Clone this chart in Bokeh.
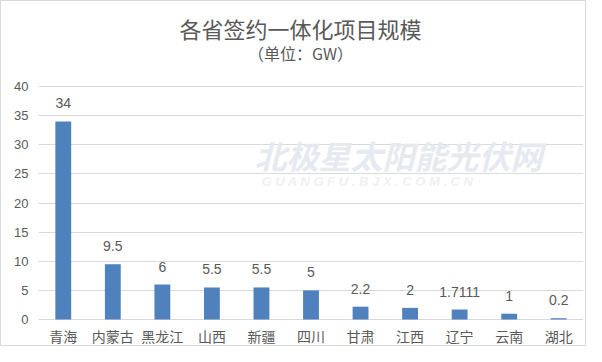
from bokeh.plotting import figure
from bokeh.models import ColumnDataSource, LabelSet, Label, FactorRange, Range1d, FixedTicker
from bokeh.core.properties import value
from bokeh.embed import file_html
from bokeh.resources import INLINE

# ---- data ----
provinces = ["青海", "内蒙古", "黑龙江", "山西", "新疆", "四川", "甘肃", "江西", "辽宁", "云南", "湖北"]
capacity_gw = [34, 9.5, 6, 5.5, 5.5, 5, 2.2, 2, 1.7111, 1, 0.2]
value_labels = ["34", "9.5", "6", "5.5", "5.5", "5", "2.2", "2", "1.7111", "1", "0.2"]
y_ticks = [0, 5, 10, 15, 20, 25, 30, 35, 40]
title_text = "各省签约一体化项目规模"
subtitle_text = "（单位：GW）"

TEXT = "#595959"
GRID = "#d9d9d9"
BAR = "#4F81BD"
CJK = "Noto Sans CJK SC"

# ---- layout (pixels) ----
W, H = 586, 346
LEFT, RIGHT = 37, 4           # frame left / right borders
TOP_PX, ZERO_PX = 85, 318     # screen y of the 40 and 0 gridlines
YMAX = 40
ppu = (ZERO_PX - TOP_PX) / YMAX
y_start = -(H - ZERO_PX) / ppu
y_end = YMAX + TOP_PX / ppu

source = ColumnDataSource(dict(prov=provinces, val=capacity_gw, lab=value_labels,
                               base=[0] * len(provinces)))

p = figure(
    x_range=FactorRange(*provinces, range_padding=0),
    y_range=Range1d(y_start, y_end),
    width=W, height=H, title=None,
    output_backend="svg", toolbar_location=None,
    min_border_left=LEFT, min_border_right=RIGHT, min_border_top=0, min_border_bottom=0,
)
p.styles = {"border": "1px solid #d9d9d9"}
p.outline_line_color = None
p.background_fill_color = "white"
p.border_fill_color = "white"

p.vbar(x="prov", top="val", width=0.32, source=source, color=BAR, line_color=None)

p.add_layout(LabelSet(x="prov", y="val", text="lab", source=source, y_offset=18,
                      text_align="center", text_baseline="middle",
                      text_font=value("Liberation Sans"), text_font_size="14px",
                      text_color=TEXT))
# category labels under the zero line
p.add_layout(LabelSet(x="prov", y="base", text="prov", source=source, y_offset=-16,
                      text_align="center", text_baseline="middle",
                      text_font=value(CJK), text_font_size="14px", text_color=TEXT))

p.xaxis.visible = False

p.yaxis.ticker = FixedTicker(ticks=y_ticks)
p.yaxis.axis_line_color = None
p.yaxis.major_tick_line_color = None
p.yaxis.minor_tick_line_color = None
p.yaxis.major_tick_out = 0
p.yaxis.major_label_standoff = 10
p.yaxis.major_label_text_font = "Liberation Sans"
p.yaxis.major_label_text_font_size = "13px"
p.yaxis.major_label_text_color = TEXT

p.xgrid.grid_line_color = None
p.ygrid.grid_line_color = GRID
p.ygrid.grid_line_width = 1

# screen positions relative to frame bottom-left (frame spans full height)
def sx(x_abs):
    return x_abs - 1 - LEFT

def sy(y_abs):
    return H - (y_abs - 1)

# watermark
p.add_layout(Label(x=sx(398), y=sy(154), x_units="screen", y_units="screen",
                   text="北极星太阳能光伏网", text_align="center", text_baseline="middle",
                   text_font=CJK, text_font_size="32px", text_font_style="bold italic",
                   text_color="#e6eaf0", level="underlay"))
p.add_layout(Label(x=sx(398), y=sy(181), x_units="screen", y_units="screen",
                   text="G  U  A  N  G  F  U  .  B  J  X  .  C  O  M  .  C  N",
                   text_align="center", text_baseline="middle", text_font="Liberation Sans",
                   text_font_size="13px", text_font_style="bold italic",
                   text_color="#f0f0f0", level="underlay"))

# titles
p.add_layout(Label(x=sx(300), y=sy(27), x_units="screen", y_units="screen", text=title_text,
                   text_align="center", text_baseline="middle", text_font=CJK,
                   text_font_size="22px", text_color=TEXT))
p.add_layout(Label(x=sx(300), y=sy(52), x_units="screen", y_units="screen", text=subtitle_text,
                   text_align="center", text_baseline="middle", text_font=CJK,
                   text_font_size="16px", text_color=TEXT))

open("out.html", "w").write(file_html(p, INLINE))
